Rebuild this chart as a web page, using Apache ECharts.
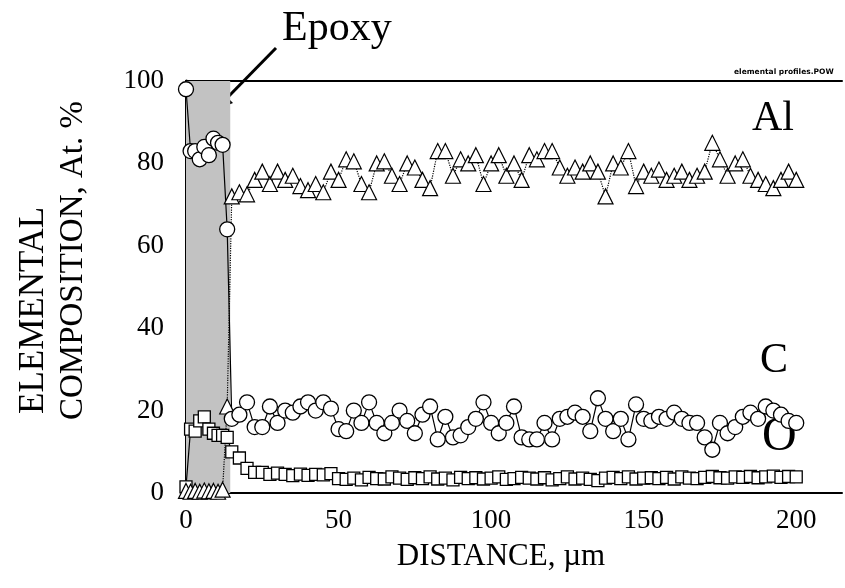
<!DOCTYPE html>
<html>
<head>
<meta charset="utf-8">
<script src="https://cdn.jsdelivr.net/npm/echarts@6/dist/echarts.min.js"></script>
<style>html,body{margin:0;padding:0;background:#fff;}#chart{width:845px;height:588px;}</style>
</head>
<body>
<div id="chart"></div>
<script>
// Distance (µm) at which each profile point was measured
const distance = [0,1.5,3,4.5,6,7.5,9,10.5,12,13.5,
  15,17.5,20,22.5,25,27.5,30,32.5,35,37.5,40,42.5,45,47.5,50,
  52.5,55,57.5,60,62.5,65,67.5,70,72.5,75,77.5,80,82.5,85,87.5,90,92.5,95,97.5,100,
  102.5,105,107.5,110,112.5,115,117.5,120,122.5,125,127.5,130,132.5,135,137.5,140,142.5,145,147.5,150,
  152.5,155,157.5,160,162.5,165,167.5,170,172.5,175,177.5,180,182.5,185,187.5,190,192.5,195,197.5,200];

// Al (triangles), At. %
const alValues = [0.5,0.3,0.5,0.3,0.6,0.4,0.5,0.3,0.8,21,
  72,73,72.5,76,78,75,78,76,77,74.5,73.5,75,73,78,76,
  81,80.5,75,73,80,80.5,77,75,80,79,76,74,83,83,77,81,80,82,75,80,
  82,77,80,76,82,81,83,83,79,77,79,78,80,78,72,80,79,83,74.5,78,
  77,78.5,76,77,78,76,77,78,85,81,77,80,81,77,76,75,74,76,78,76];

// C (circles), At. %
const cValues = [98,83,83,81,84,82,86,85,84.5,64,
  18,19,22,16,16,21,17,20,19.5,21,22,20,22,20.5,15.5,
  15,20,17,22,17,14.5,17,20,17.5,14.5,19,21,13,18.5,13.5,14,16,18,22,17,
  14.5,17,21,13.5,13,13,17,13,18,18.5,19.5,18.5,15,23,18,15,18,13,21.5,18,
  17.5,18.5,18,19.5,18,17,17,13.5,10.5,17,14.5,16,18.5,19.5,18,21,20,19,17.5,17];

// O (squares), At. %
const oValues = [1.5,15.5,15,17.5,18.5,15.5,14.5,14,14,13.5,
  10,8.5,6,5,5,4.5,4.8,4.5,4.2,4.6,4.3,4.5,4.4,4.7,3.5,
  3.3,3.6,3.2,3.8,3.5,3.4,3.9,3.6,3.3,3.7,3.5,3.9,3.4,3.6,3.2,3.8,3.5,3.7,3.4,3.6,
  3.9,3.3,3.5,3.8,3.6,3.4,3.7,3.2,3.5,3.9,3.4,3.6,3.3,3.0,3.6,3.8,3.5,3.9,3.4,3.6,
  3.7,3.5,3.8,3.4,3.9,3.6,3.5,3.8,4.0,3.7,3.6,3.9,3.8,4.0,3.7,3.9,4.1,3.8,4.0,3.9];

const xTicks = [0, 50, 100, 150, 200];
const yTicks = [0, 20, 40, 60, 80, 100];
const epoxyRange = [0, 14.5];

const pairs = vals => distance.map((d, i) => [d, vals[i]]);
const serif = 'Liberation Serif';

const chart = echarts.init(document.getElementById('chart'), null, {renderer: 'canvas'});

const option = {
  backgroundColor: '#fff',
  animation: false,
  grid: {left: 186, right: 0, top: 81, bottom: 95, containLabel: false},
  xAxis: [{
    type: 'value', min: 0, max: 215, interval: 50,
    axisLine: {show: true, lineStyle: {color: '#000', width: 2}},
    axisTick: {show: false},
    splitLine: {show: false},
    axisLabel: {
      color: '#000', fontFamily: serif, fontSize: 27, margin: 14,
      formatter: v => xTicks.indexOf(v) >= 0 ? String(v) : ''
    },
    name: 'DISTANCE, µm', nameLocation: 'middle', nameGap: 48,
    nameTextStyle: {color: '#000', fontFamily: serif, fontSize: 31, padding: [0, 26, 0, 0]}
  }, {
    type: 'value', position: 'top', min: 0, max: 215,
    axisLine: {show: true, lineStyle: {color: '#000', width: 2}},
    axisTick: {show: false}, axisLabel: {show: false}, splitLine: {show: false}
  }],
  yAxis: {
    type: 'value', min: 0, max: 100, interval: 20,
    axisLine: {show: true, lineStyle: {color: '#000', width: 3}},
    axisTick: {show: false},
    splitLine: {show: false},
    axisLabel: {
      color: '#000', fontFamily: serif, fontSize: 27, margin: 22,
      formatter: v => yTicks.indexOf(v) >= 0 ? String(v) : ''
    }
  },
  series: [
    {
      name: 'Epoxy', type: 'line', data: [], silent: true,
      markArea: {
        silent: true,
        itemStyle: {color: '#c2c2c2'},
        data: [[{coord: [epoxyRange[0], 0]}, {coord: [epoxyRange[1], 100]}]]
      }
    },
    {
      name: 'O', type: 'line', data: pairs(oValues),
      symbol: 'rect', symbolSize: 12,
      itemStyle: {color: '#fff', borderColor: '#000', borderWidth: 1.3},
      lineStyle: {color: '#000', width: 1.2}
    },
    {
      name: 'Al', type: 'line', data: pairs(alValues),
      symbol: 'triangle', symbolSize: 15,
      itemStyle: {color: '#fff', borderColor: '#000', borderWidth: 1.2},
      lineStyle: {color: '#000', width: 1.2, type: 'dotted'}
    },
    {
      name: 'C', type: 'line', data: pairs(cValues),
      symbol: 'circle', symbolSize: 15,
      itemStyle: {color: '#fff', borderColor: '#000', borderWidth: 1.3},
      lineStyle: {color: '#000', width: 1.2}
    }
  ],
  graphic: [
    {type: 'text', left: 282, top: 8, style: {text: 'Epoxy', fontFamily: serif, fontSize: 42, fill: '#000'}},
    {type: 'line', shape: {x1: 276, y1: 48, x2: 226, y2: 99}, style: {stroke: '#000', lineWidth: 3}},
    {type: 'polygon', shape: {points: [[216, 110], [222, 92], [233, 103]]}, style: {fill: '#000'}},
    {type: 'text', left: 752, top: 98, style: {text: 'Al', fontFamily: serif, fontSize: 42, fill: '#000'}},
    {type: 'text', left: 760, top: 340, style: {text: 'C', fontFamily: serif, fontSize: 42, fill: '#000'}},
    {type: 'text', left: 762, top: 413, style: {text: 'O', fontFamily: serif, fontSize: 48, fill: '#000'}},
    {type: 'text', left: 734, top: 68, style: {text: 'elemental profiles.POW', fontFamily: 'DejaVu Sans', fontSize: 7.5, fontWeight: 'bold', fill: '#000'}},
    {type: 'text', x: 34, y: 414, rotation: Math.PI / 2,
      style: {text: 'ELEMENTAL', fontFamily: serif, fontSize: 35, fill: '#000', align: 'left', verticalAlign: 'middle'}},
    {type: 'text', x: 73, y: 420, rotation: Math.PI / 2,
      style: {text: 'COMPOSITION, At. %', fontFamily: serif, fontSize: 33, fill: '#000', align: 'left', verticalAlign: 'middle'}}
  ]
};
chart.setOption(option);
</script>
</body>
</html>
